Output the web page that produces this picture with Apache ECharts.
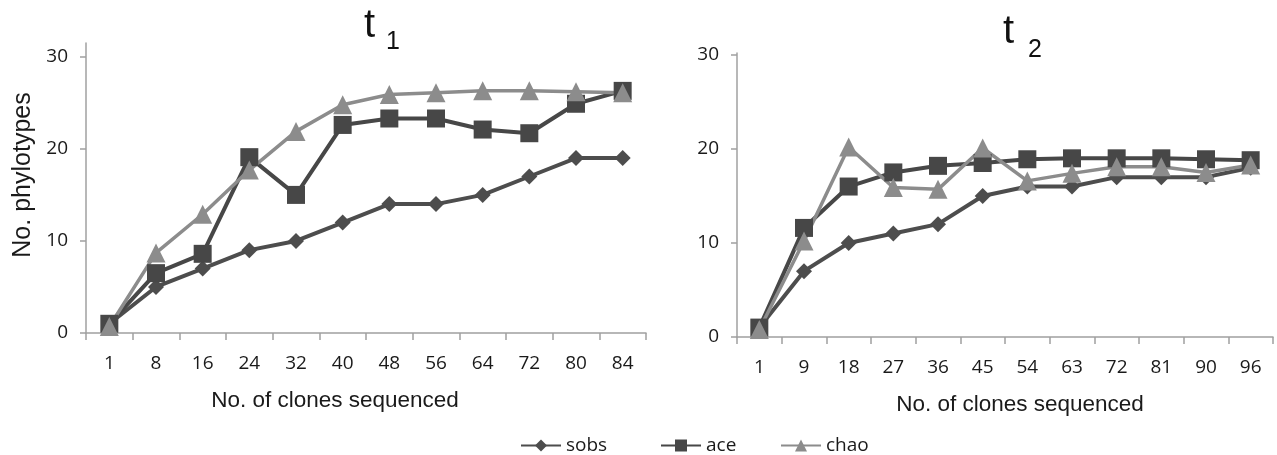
<!DOCTYPE html>
<html>
<head>
<meta charset="utf-8">
<script src="https://cdn.jsdelivr.net/npm/echarts@6/dist/echarts.min.js"></script>
<style>
html,body{margin:0;padding:0;background:#fff;}
#c{width:1277px;height:455px;}
</style>
</head>
<body>
<div id="c"></div>
<script>
// ---- data ----
var catsT1 = ['1','8','16','24','32','40','48','56','64','72','80','84'];
var catsT2 = ['1','9','18','27','36','45','54','63','72','81','90','96'];
var sobsT1 = [1, 5, 7, 9, 10, 12, 14, 14, 15, 17, 19, 19];
var aceT1  = [1, 6.5, 8.6, 19.1, 15, 22.6, 23.3, 23.3, 22.1, 21.7, 24.9, 26.3];
var chaoT1 = [0.7, 8.7, 12.9, 17.7, 21.9, 24.8, 25.9, 26.1, 26.3, 26.3, 26.2, 26.1];
var sobsT2 = [1, 7, 10, 11, 12, 15, 16, 16, 17, 17, 17, 18];
var aceT2  = [1, 11.6, 16, 17.5, 18.2, 18.5, 18.9, 19, 19, 19, 18.9, 18.8];
var chaoT2 = [0.8, 10.2, 20.2, 15.9, 15.7, 20.1, 16.6, 17.4, 18.1, 18.1, 17.5, 18.3];
var yTicks = [0, 10, 20, 30];
var seriesNames = ['sobs', 'ace', 'chao'];

var chart = echarts.init(document.getElementById('c'), null, {renderer: 'canvas'});

var tickFont = {fontFamily: 'Open Sans', fontSize: 19, color: '#1a1a1a'};
var axisLineStyle = {color: '#a0a0a0', width: 1.5};

function xAxis(idx, cats, namePad) {
  return {
    type: 'category', gridIndex: idx, data: cats, boundaryGap: true,
    name: 'No. of clones sequenced', nameLocation: 'middle', nameGap: 56,
    nameTextStyle: {fontFamily: 'Liberation Sans', fontSize: 22.5, color: '#1a1a1a', padding: namePad},
    axisLine: {show: true, lineStyle: axisLineStyle},
    axisTick: {show: true, length: 7, inside: false, alignWithLabel: false, lineStyle: axisLineStyle},
    axisLabel: Object.assign({margin: 21, interval: 0}, tickFont),
    splitLine: {show: false}
  };
}
function yAxis(idx, max, withName) {
  var a = {
    type: 'value', gridIndex: idx, min: 0, max: max,
    axisLine: {show: true, lineStyle: axisLineStyle},
    axisTick: {show: true, length: 6, customValues: yTicks, lineStyle: axisLineStyle},
    axisLabel: Object.assign({margin: 18, customValues: yTicks}, tickFont),
    splitLine: {show: false}
  };
  if (withName) {
    a.name = 'No. phylotypes';
    a.nameLocation = 'middle';
    a.nameGap = 50;
    a.nameTextStyle = {fontFamily: 'Liberation Sans', fontSize: 25, color: '#1a1a1a', padding: [0, 0, 0, 26]};
  }
  return a;
}

var styles = {
  sobs: {color: '#4d4d4d', symbol: 'diamond', size: 16, width: 4},
  ace:  {color: '#474747', symbol: 'rect', size: 18, width: 4},
  chao: {color: '#8c8c8c', symbol: 'triangle', size: 19, width: 3.5}
};
function mkSeries(name, data, idx) {
  var s = styles[name];
  return {
    name: name, type: 'line', xAxisIndex: idx, yAxisIndex: idx, data: data,
    symbol: s.symbol, symbolSize: s.size, showAllSymbol: true,
    lineStyle: {color: s.color, width: s.width},
    itemStyle: {color: s.color, borderWidth: 0},
    emphasis: {disabled: true}, animation: false
  };
}
function mkLegend(name, left) {
  return {
    left: left, top: 431, itemWidth: 40, itemHeight: 15,
    textStyle: {fontFamily: 'Open Sans', fontSize: 19, color: '#1a1a1a'},
    data: [name]
  };
}

var option = {
  animation: false,
  backgroundColor: '#fff',
  grid: [
    {left: 86, width: 560, top: 43, bottom: 122},
    {left: 737, width: 536, top: 53, bottom: 118}
  ],
  xAxis: [xAxis(0, catsT1, [0, 62, 0, 0]), xAxis(1, catsT2, [0, 0, 0, 30])],
  yAxis: [yAxis(0, 31.5, true), yAxis(1, 30.2, false)],
  legend: [mkLegend(seriesNames[0], 515), mkLegend(seriesNames[1], 655), mkLegend(seriesNames[2], 775)],
  graphic: [
    {type: 'text', left: 364, top: 6, style: {text: 't', font: '40px "Liberation Sans"', fill: '#111'}},
    {type: 'text', left: 386, top: 30, style: {text: '1', font: '25px "Liberation Sans"', fill: '#111'}},
    {type: 'text', left: 1003, top: 12, style: {text: 't', font: '40px "Liberation Sans"', fill: '#111'}},
    {type: 'text', left: 1028, top: 38, style: {text: '2', font: '25px "Liberation Sans"', fill: '#111'}}
  ],
  series: [
    mkSeries('sobs', sobsT1, 0), mkSeries('ace', aceT1, 0), mkSeries('chao', chaoT1, 0),
    mkSeries('sobs', sobsT2, 1), mkSeries('ace', aceT2, 1), mkSeries('chao', chaoT2, 1)
  ]
};
chart.setOption(option);
</script>
</body>
</html>
